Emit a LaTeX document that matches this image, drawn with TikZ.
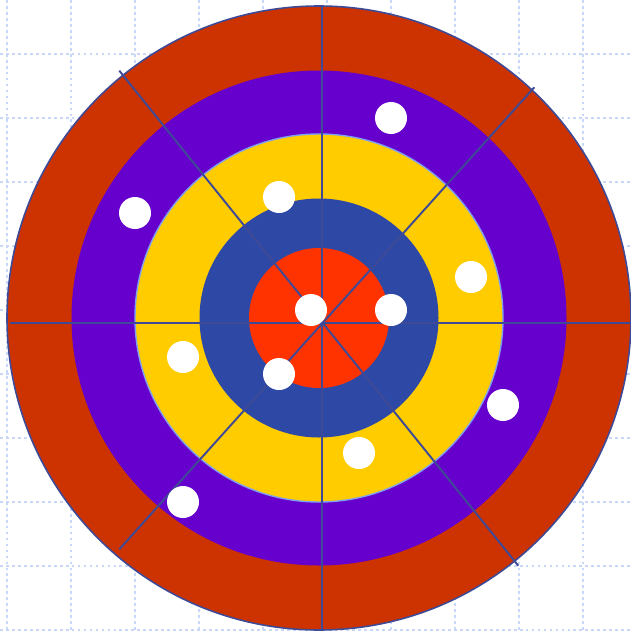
\documentclass[tikz,border=0pt]{standalone}
\usepackage{tikz}
\definecolor{gridcolor}{RGB}{200, 214, 248}
\definecolor{outercolor}{RGB}{204, 51, 0}
\definecolor{purplecolor}{RGB}{102, 0, 204}
\definecolor{yellowcolor}{RGB}{255, 204, 0}
\definecolor{bluecolor}{RGB}{46, 72, 166}
\definecolor{centercolor}{RGB}{255, 51, 0}
\definecolor{linecolor}{RGB}{62, 74, 150}
\definecolor{rimcolor}{RGB}{128, 160, 240}
\tikzstyle{gridline} = [draw=gridcolor, line width=1.4pt, dash pattern=on 1.6pt off 1.8pt]
\tikzstyle{outerring} = [fill=outercolor, draw=linecolor, line width=0.9pt]
\tikzstyle{ring} = [draw=none]
\tikzstyle{divider} = [draw=linecolor, line width=1.1pt]
\tikzstyle{dot} = [fill=white, draw=none]

\begin{document}
\begin{tikzpicture}[x=0.02cm, y=-0.02cm]

\useasboundingbox (0,0) rectangle (631,632);

% Grid
\foreach \gx in {7,71,...,583}
  \draw [gridline] (\gx,0) -- (\gx,632);
\foreach \gy in {54,118,...,630}
  \draw [gridline] (0,\gy) -- (631,\gy);

% Rings
\coordinate (c) at (319,318);
\fill [outerring] (c) circle (312);
\fill [ring, purplecolor] (c) circle (247.5);
\filldraw [ring, fill=yellowcolor, draw=rimcolor, line width=0.8pt] (c) circle (184);
\fill [ring, bluecolor] (c) circle (119.5);
\fill [ring, centercolor] (c) circle (70);

% Dividers
\coordinate (west) at (10,322.7);
\coordinate (east) at (630,322.7);
\coordinate (north) at (321.7,6);
\coordinate (south) at (321.7,630);
\coordinate (nw) at (119.3,70.7);
\coordinate (se) at (518.3,565.7);
\coordinate (ne) at (534.3,87.3);
\coordinate (sw) at (119.3,549.3);

\draw [divider] (west) -- (east);
\draw [divider] (north) -- (south);
\draw [divider] (nw) -- (se);
\draw [divider] (ne) -- (sw);

% Hits
\foreach \hx/\hy in {391/118, 135/213, 279/197, 471/277, 311/310, 391/310, 183/357, 279/374, 503/405, 359/453, 183/502}
  \fill [dot] (\hx,\hy) circle (16);

\end{tikzpicture}
\end{document}
